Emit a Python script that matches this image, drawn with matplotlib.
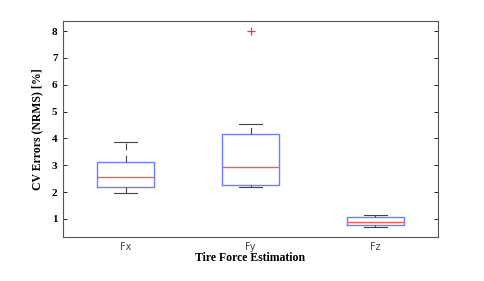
import matplotlib
matplotlib.use('Agg')
import matplotlib.pyplot as plt

labels = ['Fx', 'Fy', 'Fz']
q1 = [2.20, 2.28, 0.77]
med = [2.57, 2.95, 0.90]
q3 = [3.12, 4.18, 1.08]
wlo = [1.98, 2.20, 0.68]
whi = [3.85, 4.55, 1.15]
outliers = [[], [8.0], []]

stats = []
for i in range(len(labels)):
    stats.append({'label': labels[i], 'q1': q1[i], 'med': med[i], 'q3': q3[i],
                  'whislo': wlo[i], 'whishi': whi[i], 'fliers': []})

fig = plt.figure(figsize=(4.85, 2.81), dpi=100)
ax = fig.add_axes([0.130, 0.157, 0.773, 0.768])

ax.bxp(stats, positions=[1, 2, 3], widths=0.45, capwidths=0.18, showfliers=False,
       boxprops=dict(color='#6f7fff', linewidth=1.0),
       medianprops=dict(color='#ff5a5a', linewidth=1.0),
       whiskerprops=dict(color='#444444', linewidth=0.8, linestyle=(0, (6, 5))),
       capprops=dict(color='#444444', linewidth=0.8))

# outliers as red plus signs
for i, vals in enumerate(outliers):
    if vals:
        ax.plot([i + 1] * len(vals), vals, '+', color='#ff3030',
                markersize=6, markeredgewidth=0.9, linestyle='none')

ax.set_xlim(0.5, 3.5)
ax.set_ylim(0.33, 8.37)
ax.set_yticks(range(1, 9))
ax.set_xticks([1, 2, 3])
ax.set_xticklabels(labels, fontsize=7, family='DejaVu Sans', color='#444444')
for t in ax.get_yticklabels():
    t.set_fontfamily('Liberation Serif')
    t.set_fontweight('bold')
    t.set_fontsize(8)
ax.tick_params(axis='y', direction='in', length=3, right=True, width=0.6, pad=4)
ax.tick_params(axis='x', direction='in', length=0, pad=4)
for s in ax.spines.values():
    s.set_color('#555555')
    s.set_linewidth(0.8)

ax.set_ylabel('CV Errors (NRMS) [%]', family='Liberation Serif', fontweight='bold',
              fontsize=8.5, labelpad=6)
ax.set_xlabel('Tire Force Estimation', family='Liberation Serif', fontweight='bold',
              fontsize=8.5, labelpad=0)

fig.savefig('out.png', dpi=100)
